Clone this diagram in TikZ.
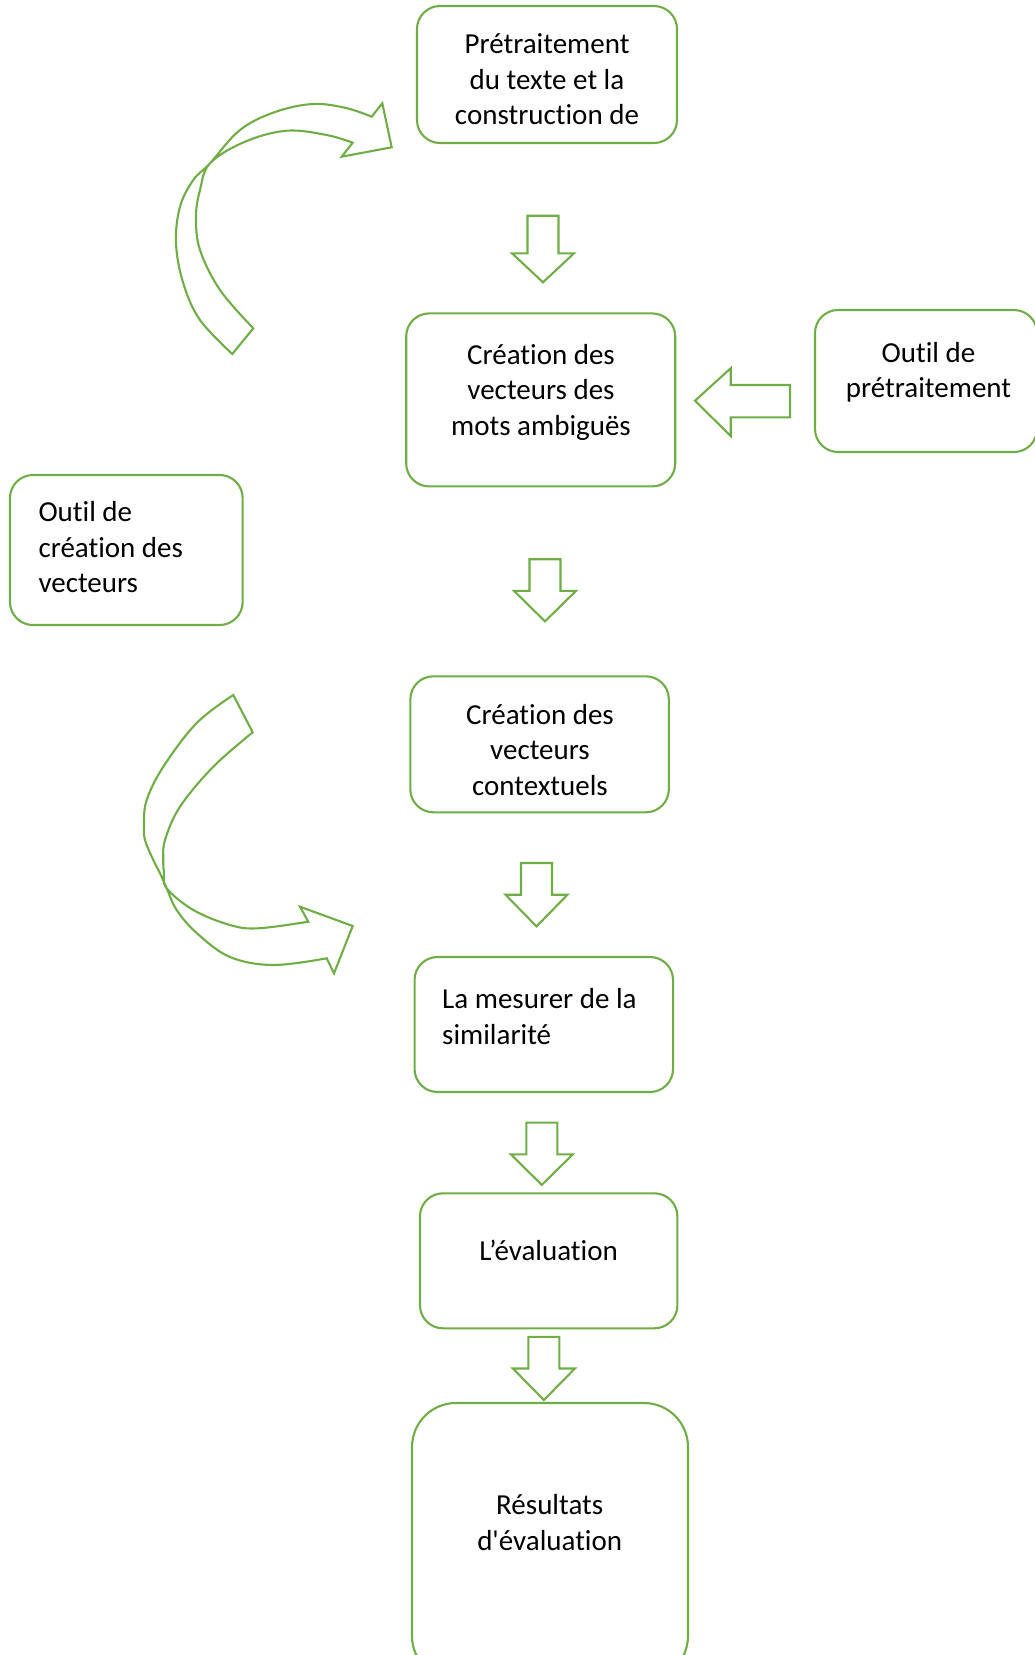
\documentclass[tikz,border=0pt]{standalone}
\usepackage{fontspec}
\setmainfont{Carlito}[Ligatures=TeXOff, RawFeature={-liga;-clig;-calt;-dlig}]
\definecolor{grn}{HTML}{70AD47}
\newcommand\dnarr[4]{%
  \draw[shp] (#1-15.5,#2) -- (#1+15.5,#2) -- (#1+15.5,#3) -- (#1+31,#3) -- (#1,#4) -- (#1-31,#3) -- (#1-15.5,#3) -- cycle;}
\begin{document}
\begin{tikzpicture}[x=1pt,y=-1pt,
  box/.style={draw=grn, line width=2.1pt, rounded corners=23pt, inner sep=0pt},
  lbl/.style={font=\fontsize{29}{35.5}\selectfont, align=center, inner sep=0pt},
  lbll/.style={lbl, align=left},
  shp/.style={draw=grn, line width=2.1pt, line join=miter}
]
\useasboundingbox (0,0) rectangle (1035,1655);

% boxes
\node[box, minimum width=260pt, minimum height=137pt] (b1) at (547,74.5) {};
\node[box, minimum width=269pt, minimum height=173pt] (b2) at (540.7,399.9) {};
\node[box, minimum width=222pt, minimum height=142pt] (b3) at (926,381) {};
\node[box, minimum width=232.7pt, minimum height=150pt] (b4) at (126.3,550) {};
\node[box, minimum width=258.5pt, minimum height=136pt] (b5) at (539.6,744.3) {};
\node[box, minimum width=258.5pt, minimum height=135pt] (b6) at (543.8,1024.5) {};
\node[box, minimum width=257.4pt, minimum height=135pt] (b7) at (548.7,1260.8) {};
\node[box, rounded corners=44pt, minimum width=276pt, minimum height=277pt] (b8) at (550,1541.5) {};

% texts
\node[lbl] (t1) at (547,79.2) {Prétraitement\\du texte et la\\construction de};
\node[lbl] (t2) at (541,392) {Création des\\vecteurs des\\mots ambiguës};
\node[lbl] (t3) at (928.5,372.5) {Outil de\\prétraitement};
\node[lbll, anchor=west] (t4) at (38.3,547.5) {Outil de\\création des\\vecteurs};
\node[lbl] (t5) at (540,749.6) {Création des\\vecteurs\\contextuels};
\node[lbll, anchor=west] (t6) at (442,1016.5) {La mesurer de la\\similarité};
\node[lbl, anchor=base] (t7) at (548.6,1260.8) {L’évaluation};
\node[lbl] (t8) at (549.7,1522.5) {Résultats\\d'évaluation};

% down block arrows
\dnarr{543}{215.7}{253.3}{282.3}
\dnarr{545}{559.2}{590.8}{621.4}
\dnarr{536.5}{863}{894.7}{926.4}
\dnarr{541.8}{1122.6}{1154.3}{1184.9}
\dnarr{543.9}{1336.8}{1368.5}{1400}

% left block arrow
\draw[shp] (790,385) -- (730.7,385) -- (730.7,368.3) -- (695,400.7) -- (730.7,436) -- (730.7,417.3) -- (790,417.3) -- cycle;

% curved arrow 1 (top left)
\draw[shp] plot[smooth, tension=0.6] coordinates {(232.3,354) (200,320) (183.3,283.3) (176,243.3) (180,206.7) (193.3,180) (210,163.3) (240,130) (275,112) (313,104) (346,108) (371.7,116.7)}
  -- (382.3,103.3) -- (391.7,147.3) -- (341.7,156.7) --
  plot[smooth, tension=0.6] coordinates {(352.7,142.7) (326.7,135) (286.7,130.7) (245,141.7) (210,163.3) (200,190) (196,216.7) (200,250) (220,290) (253.3,328.3)}
  -- cycle;

% curved arrow 2 (middle left)
\draw[shp] plot[smooth, tension=0.6] coordinates {(233.3,695) (196.7,723) (163.3,766.7) (146.7,800) (144,824) (145,840) (153.3,860) (160,873.3) (166.7,888.3) (176.7,910) (196.7,933) (230,957) (273.3,965) (326.7,958.3)}
  -- (334,973.3) -- (352.7,926) -- (300,906.7) --
  plot[smooth, tension=0.6] coordinates {(308.3,921.7) (258.3,928.3) (230,925) (193.3,910) (166.7,888.3) (164,873) (163.3,860) (165,840) (180,806.7) (213.3,766.7) (252.7,732.3)}
  -- cycle;
\end{tikzpicture}
\end{document}
